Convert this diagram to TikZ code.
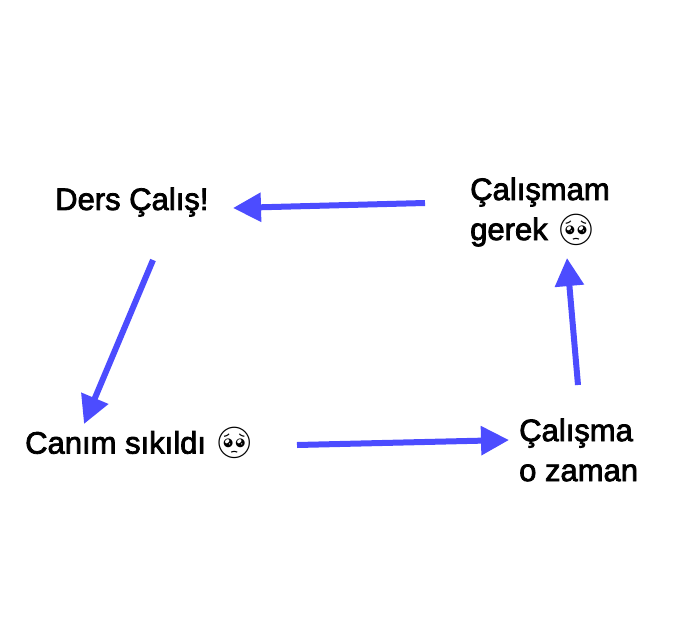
\documentclass[tikz,border=0pt]{standalone}
\usepackage{fontspec}
\setmainfont[FakeBold=2.5]{Liberation Sans}
\newfontfamily\emo{Noto Emoji}
\usetikzlibrary{arrows.meta}
\begin{document}
\begin{tikzpicture}[x=1pt,y=-1pt,
  lbl/.style={font=\fontsize{31}{40}\selectfont, align=left, inner sep=0},
  arr/.style={draw=blue!70!white, line width=6pt, -{Triangle[length=28pt,width=28pt]}}]
\useasboundingbox (0,0) rectangle (690,619);
\node[lbl,anchor=west] (a) at (55,202) {Ders Çalış!};
\node[lbl,anchor=west] (b) at (470,212) {Çalışmam\\gerek {\emo 🥺}};
\node[lbl,anchor=west] (c) at (25,443) {Canım sıkıldı {\emo 🥺}};
\node[lbl,anchor=west] (d) at (519,450) {Çalışma\\o zaman};
\coordinate (b1) at (425,203); \coordinate (a1) at (233,208);
\coordinate (a2) at (153,260); \coordinate (c2) at (84,424);
\coordinate (c3) at (297,445); \coordinate (d3) at (509,440);
\coordinate (d4) at (578,385); \coordinate (b4) at (567,258);
\draw[arr] (b1) -- (a1);
\draw[arr] (a2) -- (c2);
\draw[arr] (c3) -- (d3);
\draw[arr] (d4) -- (b4);
\end{tikzpicture}
\end{document}
